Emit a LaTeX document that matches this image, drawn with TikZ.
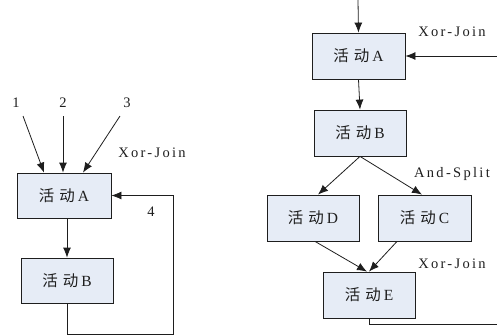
\documentclass[tikz,border=0pt]{standalone}
\usepackage{fontspec}
\setmainfont{Liberation Serif}
\newfontfamily\cjk{Noto Sans CJK SC}
\usetikzlibrary{arrows.meta}
\definecolor{boxfill}{RGB}{230,236,246}
\definecolor{ink}{RGB}{30,30,30}
\newcommand{\act}[1]{{\cjk 活}\hspace{5pt}{\cjk 动}\hspace{3pt}#1}
\begin{document}
\begin{tikzpicture}[x=1pt,y=-1pt,
  actbox/.style={draw=ink,fill=boxfill,line width=0.8pt,minimum width=92pt,minimum height=45pt,inner sep=0pt,font=\fontsize{15.5}{15.5}\selectfont,text=ink},
  lbl/.style={font=\fontsize{14.5}{14.5}\selectfont\addfontfeature{LetterSpace=16},text=ink,inner sep=0pt},
  arr/.style={-{Latex[length=10pt,width=8pt]},line width=0.8pt,draw=ink},
  ln/.style={line width=0.8pt,draw=ink}]
\useasboundingbox (0,0) rectangle (497,335);
% left diagram
\node[actbox,minimum width=94pt] (lA) at (64,195.5) {\act{A}};
\node[actbox] (lB) at (67,280.5) {\act{B}};
\coordinate (s1) at (23,116);
\coordinate (s2) at (63,116);
\coordinate (s3) at (120,116);
\node[lbl] (n1) at (16,103) {1};
\node[lbl] (n2) at (63,103) {2};
\node[lbl] (n3) at (127,103) {3};
\node[lbl] (lxj) at (152,153) {Xor-Join};
\node[lbl] (n4) at (151,212) {4};
\draw[arr] (s1) -- ([xshift=-20pt]lA.north);
\draw[arr] (s2) -- ([xshift=-1pt]lA.north);
\draw[arr] (s3) -- ([xshift=19pt]lA.north);
\draw[arr] (lA.south -| lB.north) -- (lB.north);
\coordinate (lc) at (173,334);
\draw[arr] (lB.south) |- (lc) -- (lc |- lA.east) -- (lA.east);
% right diagram
\node[actbox,minimum width=93pt,minimum height=46pt] (rA) at (358.5,56) {\act{A}};
\node[actbox,minimum height=46pt] (rB) at (360,133) {\act{B}};
\node[actbox,minimum height=46pt] (rD) at (313,218) {\act{D}};
\node[actbox,minimum width=93pt,minimum height=46pt] (rC) at (424.5,218) {\act{C}};
\node[actbox,minimum height=46pt] (rE) at (369,295) {\act{E}};
\coordinate (rt) at (358,0);
\coordinate (rr) at (497,56);
\coordinate (re) at (497,324);
\node[lbl] (rxj1) at (452,32) {Xor-Join};
\node[lbl] (ras) at (452,174) {And-Split};
\node[lbl] (rxj2) at (452,264) {Xor-Join};
\draw[arr] (rt) -- (rA.north);
\draw[arr] (rr) -- (rA.east);
\draw[arr] (rA.south) -- (rB.north);
\draw[arr] (rB.south) -- ([xshift=5pt]rD.north);
\draw[arr] (rB.south) -- ([xshift=-2.5pt]rC.north);
\draw[arr] ([xshift=2pt]rD.south) -- ([xshift=-2pt]rE.north);
\draw[arr] ([xshift=-27.5pt]rC.south) -- (rE.north);
\draw[ln] (rE.south) |- (re);
\end{tikzpicture}
\end{document}
